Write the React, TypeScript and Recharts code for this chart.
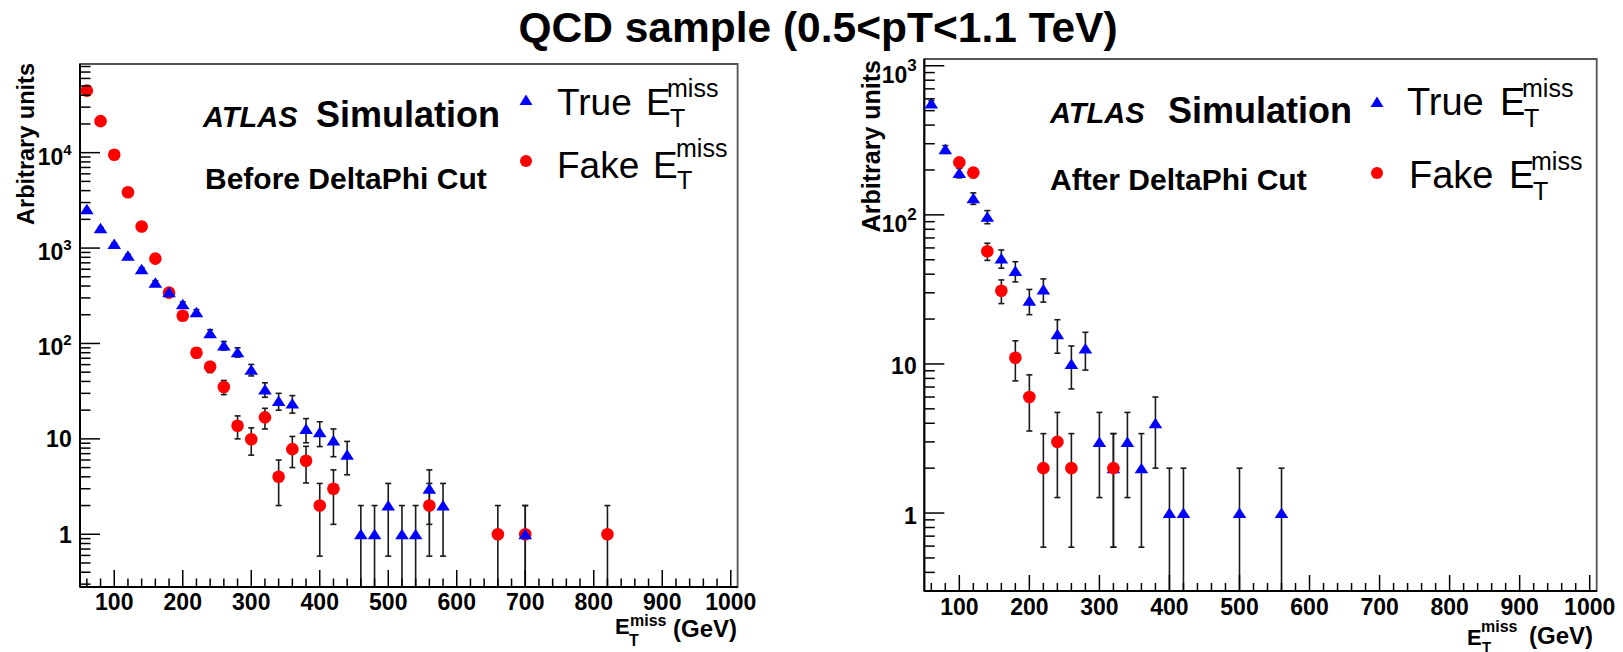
import React from 'react';
import { ScatterChart, Scatter, XAxis, YAxis, ErrorBar, ReferenceArea } from 'recharts';

const FONT = '"Liberation Sans", Arial, Helvetica, sans-serif';

// ---------- Data: Before DeltaPhi Cut ----------
const leftTrueX = [60, 80, 100, 120, 140, 160, 180, 200, 220, 240, 260, 280, 300, 320, 340, 360, 380, 400, 420, 440, 460, 480, 500, 520, 540, 560, 580, 700];
const leftTrueY = [2550, 1610, 1100, 830, 600, 434, 344, 257, 212, 128, 95, 81, 53, 33, 25, 23.5, 12.7, 11.7, 9.6, 6.8, 1, 1, 2, 1, 1, 3, 2, 1];
const leftTrueErr = [50, 40, 33, 29, 24.5, 21, 18.5, 16, 14.5, 11.3, 9.7, 9, 7.3, 5.7, 5, 4.9, 3.6, 3.4, 3.1, 2.6, 1, 1, 1.41, 1, 1, 1.73, 1.41, 1];

const leftFakeX = [60, 80, 100, 120, 140, 160, 180, 200, 220, 240, 260, 280, 300, 320, 340, 360, 380, 400, 420, 560, 660, 700, 820];
const leftFakeY = [44700, 21400, 9500, 3850, 1680, 775, 341, 195, 80, 57, 35, 13.7, 9.9, 16.8, 4, 7.8, 5.9, 2, 3, 2, 1, 1, 1];
const leftFakeErr = [211, 146, 97, 62, 41, 28, 18.5, 14, 8.9, 7.5, 5.9, 3.7, 3.15, 4.1, 2, 2.8, 2.45, 1.41, 1.73, 1.41, 1, 1, 1];

// ---------- Data: After DeltaPhi Cut ----------
const rightTrueX = [60, 80, 100, 120, 140, 160, 180, 200, 220, 240, 260, 280, 300, 320, 340, 360, 380, 400, 420, 500, 560];
const rightTrueY = [559, 275, 191, 129, 97, 51, 42, 26.5, 31.6, 15.8, 10, 12.7, 3, 2, 3, 2, 4, 1, 1, 1, 1];
const rightTrueErr = [23.6, 16.6, 13.8, 11.4, 9.8, 7.1, 6.5, 5.1, 5.6, 4, 3.2, 3.6, 1.73, 1.41, 1.73, 1.41, 2, 1, 1, 1, 1];

const rightFakeX = [100, 120, 140, 160, 180, 200, 220, 240, 260, 320];
const rightFakeY = [225, 192, 57, 31, 11, 6, 2, 3, 2, 2];
const rightFakeErr = [15, 13.9, 7.5, 5.6, 3.3, 2.45, 1.41, 1.73, 1.41, 1.41];

// ---------- Axes ----------
const xDomain = [50, 1010];
const xMajorTicks = [100, 200, 300, 400, 500, 600, 700, 800, 900, 1000];
const xMinorStep = 20;
const leftYDomain = [0.28, 85000];
const rightYDomain = [0.3, 1110];
const yMantissas = [1, 2, 3, 4, 5, 6, 7, 8, 9];
const yDecades = [0.1, 1, 10, 100, 1000, 10000];

const xTicks: number[] = [];
for (let v = 60; v <= 1000; v += xMinorStep) xTicks.push(v);

const yTicksFor = (dom: number[]) =>
  yDecades.flatMap((d) => yMantissas.map((m) => +(m * d).toPrecision(3))).filter((v) => v >= dom[0] && v <= dom[1]);

const toPoints = (xs: number[], ys: number[], es: number[], yMin: number) =>
  xs.map((x, i) => ({ x, y: ys[i], err: [Math.min(es[i], ys[i] - yMin), es[i]] }));

const lbl = { fontFamily: FONT, fontWeight: 700, fill: '#000' } as const;

const makeXTick = (majLen: number, minLen: number, labelDy: number) => (p: any) => {
  const { x, y, payload } = p;
  const v = payload.value;
  const major = xMajorTicks.includes(v);
  return (
    <g>
      <line x1={x} y1={y} x2={x} y2={y - (major ? majLen : minLen)} stroke="#000" strokeWidth={1.5} />
      {major && (
        <text x={x} y={y + labelDy} textAnchor="middle" fontSize={23} {...lbl}>
          {v}
        </text>
      )}
    </g>
  );
};

const makeYTick = (plainDy: number, powDy: number, supDy: number, supSize: number, gap: number) => (p: any) => {
  const { x, y, payload } = p;
  const v = payload.value;
  const lg = Math.log10(v);
  const exp = Math.round(lg);
  const major = Math.abs(lg - exp) < 1e-6;
  if (!major) return <line x1={x} y1={y} x2={x + 10.5} y2={y} stroke="#000" strokeWidth={1.5} />;
  return (
    <g>
      <line x1={x} y1={y} x2={x + 20} y2={y} stroke="#000" strokeWidth={1.5} />
      {exp <= 1 ? (
        <text x={x - gap} y={y + plainDy} textAnchor="end" fontSize={23} {...lbl}>
          {exp === 0 ? '1' : '10'}
        </text>
      ) : (
        <text x={x - gap} y={y + powDy} textAnchor="end" fontSize={23} {...lbl}>
          <tspan>10</tspan>
          <tspan dy={supDy} fontSize={supSize}>
            {exp}
          </tspan>
        </text>
      )}
    </g>
  );
};

const Triangle = (p: any) => {
  const { cx, cy } = p;
  if (cx == null || cy == null) return <g />;
  return <polygon points={`${cx},${cy - 5.5} ${cx - 6.8},${cy + 5} ${cx + 6.8},${cy + 5}`} fill="#0000ff" />;
};
const Dot = (p: any) => {
  const { cx, cy } = p;
  if (cx == null || cy == null) return <g />;
  return <circle cx={cx} cy={cy} r={6.3} fill="#ff0000" />;
};

type PanelProps = {
  left: number;
  width: number;
  top: number;
  right: number;
  yAxisW: number;
  xAxisH: number;
  yDomain: number[];
  trueData: any[];
  fakeData: any[];
  fakeOnTop: boolean;
  xTick: any;
  yTick: any;
};

function Panel(props: PanelProps) {
  const { left, width, top, right, yAxisW, xAxisH, yDomain, trueData, fakeData, fakeOnTop, xTick, yTick } = props;
  const eb = <ErrorBar dataKey="err" direction="y" width={3} stroke="#1a1a1a" strokeWidth={1.6} isAnimationActive={false} />;
  const trueS = (
    <Scatter key="t" name="True" data={trueData} shape={Triangle} isAnimationActive={false}>
      {eb}
    </Scatter>
  );
  const fakeS = (
    <Scatter key="f" name="Fake" data={fakeData} shape={Dot} isAnimationActive={false}>
      {eb}
    </Scatter>
  );
  return (
    <div style={{ position: 'absolute', left, top: 0 }}>
      <ScatterChart width={width} height={652} margin={{ top, right, bottom: 0, left: 0 }}>
        <XAxis
          type="number"
          dataKey="x"
          domain={xDomain}
          allowDataOverflow
          ticks={xTicks}
          interval={0}
          tickSize={0}
          tickMargin={0}
          tickLine={false}
          height={xAxisH}
          axisLine={{ stroke: '#000', strokeWidth: 2 }}
          tick={xTick}
        />
        <YAxis
          type="number"
          dataKey="y"
          scale="log"
          domain={yDomain}
          allowDataOverflow
          ticks={yTicksFor(yDomain)}
          interval={0}
          tickSize={0}
          tickMargin={0}
          tickLine={false}
          width={yAxisW}
          axisLine={{ stroke: '#000', strokeWidth: 2 }}
          tick={yTick}
        />
        <ReferenceArea x1={xDomain[0]} x2={xDomain[1]} y1={yDomain[0]} y2={yDomain[1]} fill="none" stroke="#555" strokeWidth={1.8} ifOverflow="visible" />
        {fakeOnTop ? [trueS, fakeS] : [fakeS, trueS]}
      </ScatterChart>
    </div>
  );
}

const T = (p: any) => <text fontFamily={FONT} fill="#000" {...p} />;

export default function App() {
  const leftTrue = toPoints(leftTrueX, leftTrueY, leftTrueErr, leftYDomain[0]);
  const leftFake = toPoints(leftFakeX, leftFakeY, leftFakeErr, leftYDomain[0]);
  const rightTrue = toPoints(rightTrueX, rightTrueY, rightTrueErr, rightYDomain[0]);
  const rightFake = toPoints(rightFakeX, rightFakeY, rightFakeErr, rightYDomain[0]);

  return (
    <div style={{ position: 'absolute', left: 0, top: 0, width: 1623, height: 652, background: '#fff', overflow: 'hidden' }}>
      <Panel
        left={0}
        width={760}
        top={64}
        right={22.4}
        yAxisW={80}
        xAxisH={65}
        yDomain={leftYDomain}
        trueData={leftTrue}
        fakeData={leftFake}
        fakeOnTop={false}
        xTick={makeXTick(17, 8.5, 23)}
        yTick={makeYTick(8.5, 12, -10, 15, 8.3)}
      />
      <Panel
        left={800}
        width={823}
        top={59}
        right={26.3}
        yAxisW={124.3}
        xAxisH={61}
        yDomain={rightYDomain}
        trueData={rightTrue}
        fakeData={rightFake}
        fakeOnTop={true}
        xTick={makeXTick(16, 8, 24)}
        yTick={makeYTick(10.5, 17, -11.5, 17, 7.6)}
      />
      <svg width={1623} height={652} style={{ position: 'absolute', left: 0, top: 0, pointerEvents: 'none' }}>
        <T x={818} y={42} textAnchor="middle" fontSize={42.5} fontWeight={700}>
          QCD sample (0.5&lt;pT&lt;1.1 TeV)
        </T>

        {/* Left panel texts */}
        <T x={34} y={63} textAnchor="end" fontSize={23.5} fontWeight={700} transform="rotate(-90 34 63)">
          Arbitrary units
        </T>
        <T x={203} y={127} fontSize={29} fontWeight={700} fontStyle="italic">ATLAS</T>
        <T x={316} y={127} fontSize={36} fontWeight={700}>Simulation</T>
        <T x={205} y={189} fontSize={30} fontWeight={700}>Before DeltaPhi Cut</T>
        <polygon points="526,94.5 519.5,105 532.5,105" fill="#0000ff" />
        <circle cx={526} cy={161} r={6} fill="#ff0000" />
        <T x={557} y={115} fontSize={37}>True</T>
        <T x={646} y={115} fontSize={37}>E</T>
        <T x={670} y={127} fontSize={25}>T</T>
        <T x={667} y={97} fontSize={25}>miss</T>
        <T x={557} y={178} fontSize={37}>Fake</T>
        <T x={653} y={178} fontSize={37}>E</T>
        <T x={677} y={189} fontSize={25}>T</T>
        <T x={676} y={157} fontSize={25}>miss</T>
        <T x={615} y={634} fontSize={22} fontWeight={700}>E</T>
        <T x={629} y={646} fontSize={16} fontWeight={700}>T</T>
        <T x={630} y={626} fontSize={16} fontWeight={700}>miss</T>
        <T x={737} y={637} textAnchor="end" fontSize={24} fontWeight={700}>(GeV)</T>

        {/* Right panel texts */}
        <T x={880} y={60} textAnchor="end" fontSize={25} fontWeight={700} transform="rotate(-90 880 60)">
          Arbitrary units
        </T>
        <T x={1050} y={123} fontSize={29} fontWeight={700} fontStyle="italic">ATLAS</T>
        <T x={1168} y={123} fontSize={36} fontWeight={700}>Simulation</T>
        <T x={1050} y={190} fontSize={30} fontWeight={700}>After DeltaPhi Cut</T>
        <polygon points="1377,96.5 1370.5,107 1383.5,107" fill="#0000ff" />
        <circle cx={1377} cy={173} r={6} fill="#ff0000" />
        <T x={1407} y={115} fontSize={38}>True</T>
        <T x={1500} y={115} fontSize={38}>E</T>
        <T x={1524} y={127} fontSize={25}>T</T>
        <T x={1522} y={97} fontSize={25}>miss</T>
        <T x={1409} y={188} fontSize={38}>Fake</T>
        <T x={1509} y={188} fontSize={38}>E</T>
        <T x={1533} y={200} fontSize={25}>T</T>
        <T x={1531} y={170} fontSize={25}>miss</T>
        <T x={1467} y={645} fontSize={22} fontWeight={700}>E</T>
        <T x={1482} y={652} fontSize={15} fontWeight={700}>T</T>
        <T x={1481} y={632} fontSize={16} fontWeight={700}>miss</T>
        <T x={1593} y={644} textAnchor="end" fontSize={24} fontWeight={700}>(GeV)</T>
      </svg>
    </div>
  );
}
